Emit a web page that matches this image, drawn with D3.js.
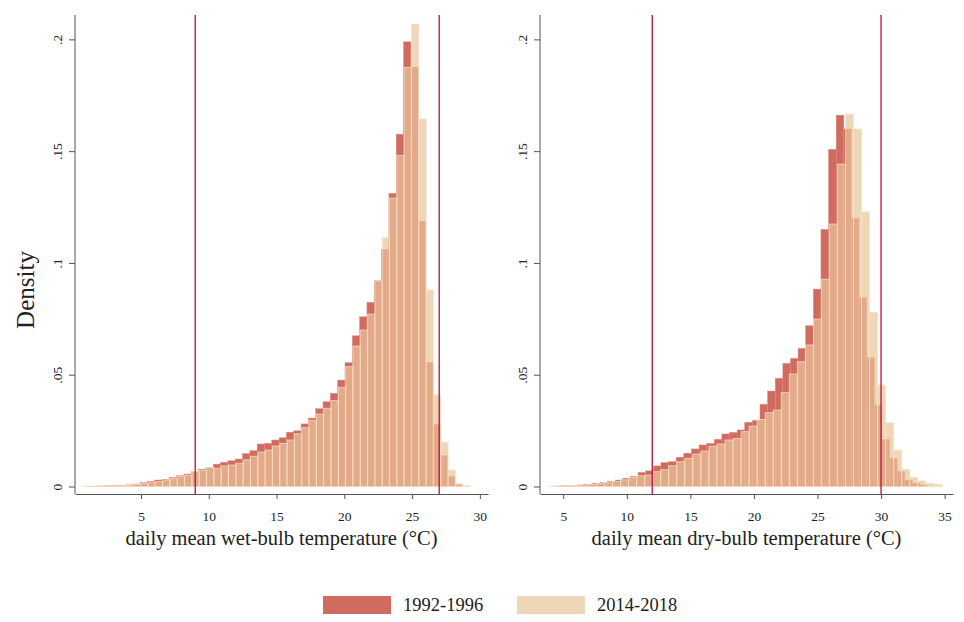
<!DOCTYPE html>
<html>
<head>
<meta charset="utf-8">
<script src="https://cdn.jsdelivr.net/npm/d3@7"></script>
<style>
  html, body { margin: 0; padding: 0; background: #fff; }
  svg { display: block; }
  text { font-family: "Liberation Serif", "DejaVu Serif", serif; fill: #222; }
</style>
</head>
<body>
<svg id="chart" width="964" height="622"></svg>
<script>
// ---------------- DATA ----------------
const seriesNames = ["1992-1996", "2014-2018"];

// wet-bulb panel (°C bins)
const wetRedStart = 1.15, wetRedWidth = 0.54;
const wetRed = [.0001, .0002, .0003, .0004, .0005, .0007, .0011, .0017, .0022, .0029,
  .0032, .0040, .0048, .0056, .0066, .0077, .0084, .0100, .0108, .0115,
  .0123, .0147, .0160, .0190, .0193, .0208, .0218, .0243, .0249, .0280,
  .0306, .0348, .0379, .0417, .0476, .0554, .0674, .0759, .0824, .0920,
  .1061, .1311, .1576, .1989, .1875, .1187, .0555, .0278, .0138, .0044, .0007];
const wetBeigeStart = 0.66, wetBeigeWidth = 0.54;
const wetBeige = [.0002, .0002, .0003, .0003, .0003, .0004, .0005, .0009, .0014, .0017, .0022,
  .0029, .0035, .0044, .0051, .0066, .0072, .0086, .0082, .0092, .0096,
  .0104, .0119, .0135, .0154, .0163, .0181, .0193, .0208, .0236, .0263,
  .0296, .0324, .0350, .0384, .0444, .0536, .0628, .0700, .0771, .0920,
  .1113, .1290, .1481, .1875, .2068, .1644, .0879, .0409, .0198, .0074, .0014, .0004];

// dry-bulb panel (°C bins)
const dryRedStart = 4.29, dryRedWidth = 0.5995;
const dryRed = [.0002, .0004, .0005, .0007, .0010, .0014, .0017, .0022, .0029, .0037, .0045, .0063, .0070,
  .0092, .0107, .0111, .0131, .0149, .0168, .0186, .0193, .0211, .0235,
  .0242, .0253, .0287, .0295, .0368, .0427, .0484, .0551, .0573, .0618,
  .0719, .0883, .1150, .1508, .1661, .1599, .1199, .0846, .0576, .0364, .0211, .0126, .0066, .0029, .0015, .0007];
const dryBeigeStart = 3.82, dryBeigeWidth = 0.632;
const dryBeige = [.0002, .0003, .0004, .0005, .0007, .0010, .0013, .0017, .0023, .0030, .0041, .0048, .0051,
  .0066, .0075, .0093, .0111, .0126, .0145, .0158, .0180, .0190, .0208,
  .0215, .0245, .0270, .0300, .0330, .0342, .0420, .0503, .0558, .0633,
  .0749, .0927, .1174, .1442, .1666, .1599, .1229, .0779, .0453, .0285, .0163, .0077, .0041, .0025, .0015, .0010];

const yTicks = [0, 0.05, 0.1, 0.15, 0.2];
const yTickLabels = ["0", ".05", ".1", ".15", ".2"];
const wetXTicks = [5, 10, 15, 20, 25, 30];
const dryXTicks = [5, 10, 15, 20, 25, 30, 35];
const wetXDomain = [0.13, 30.6];
const dryXDomain = [3.17, 35.66];
const yDomain = [-0.00335, 0.2109];
const wetRefLines = [9, 27];
const dryRefLines = [12, 30];
const wetTitle = "daily mean wet-bulb temperature (°C)";
const dryTitle = "daily mean dry-bulb temperature (°C)";
const yTitle = "Density";

// ---------------- STYLE ----------------
const redFill = "rgb(208,107,95)";
const beigeFill = "rgb(234,196,154)";
const beigeOpacity = 0.7;
const refColor = "#b3123c";
const axisColor = "#555";

const svg = d3.select("#chart");
svg.append("rect").attr("width", 964).attr("height", 622).attr("fill", "#fff");

const plotTop = 15, plotBottom = 494;
const y = d3.scaleLinear().domain(yDomain).range([plotBottom, plotTop]);

function toBins(values, start, width) {
  return values.map((v, i) => ({x0: start + i * width, x1: start + (i + 1) * width, v}));
}

function panel(opts) {
  const x = d3.scaleLinear().domain(opts.xDomain).range(opts.xRange);
  const g = svg.append("g");

  // red bars (1992-1996)
  g.append("g").selectAll("rect")
    .data(toBins(opts.red, opts.redStart, opts.redWidth))
    .join("rect")
    .attr("x", d => x(d.x0))
    .attr("width", d => x(d.x1) - x(d.x0))
    .attr("y", d => y(d.v))
    .attr("height", d => y(0) - y(d.v))
    .attr("fill", redFill)
    .attr("stroke", "rgb(222,140,125)")
    .attr("stroke-width", 0.5);

  // beige bars (2014-2018), semi-transparent on top
  g.append("g").selectAll("rect")
    .data(toBins(opts.beige, opts.beigeStart, opts.beigeWidth))
    .join("rect")
    .attr("x", d => x(d.x0))
    .attr("width", d => x(d.x1) - x(d.x0))
    .attr("y", d => y(d.v))
    .attr("height", d => y(0) - y(d.v))
    .attr("fill", beigeFill)
    .attr("fill-opacity", beigeOpacity)
    .attr("stroke", "rgb(246,226,202)")
    .attr("stroke-opacity", 0.8)
    .attr("stroke-width", 0.9);

  // reference lines
  g.append("g").selectAll("line")
    .data(opts.refs)
    .join("line")
    .attr("x1", d => x(d)).attr("x2", d => x(d))
    .attr("y1", plotTop).attr("y2", plotBottom)
    .attr("stroke", refColor)
    .attr("stroke-width", 1.3);

  // y axis
  const yAxis = d3.axisLeft(y).tickValues(yTicks)
    .tickFormat((d, i) => yTickLabels[i]).tickSize(6).tickSizeOuter(0);
  const ya = g.append("g").attr("transform", `translate(${opts.xRange[0]},0)`).call(yAxis);
  ya.select(".domain").attr("stroke", axisColor).attr("d", `M0,${plotTop}V${plotBottom}`);
  ya.selectAll(".tick line").attr("stroke", axisColor);
  ya.selectAll(".tick text")
    .attr("font-family", "Liberation Serif")
    .attr("font-size", 13.5)
    .attr("fill", "#222")
    .attr("x", 0).attr("dy", 0)
    .attr("text-anchor", "middle")
    .attr("dominant-baseline", "central")
    .attr("transform", "translate(-18,0) rotate(-90)");

  // x axis
  const xAxis = d3.axisBottom(x).tickValues(opts.xTicks).tickSize(5).tickSizeOuter(0);
  const xa = g.append("g").attr("transform", `translate(0,${plotBottom})`).call(xAxis);
  xa.select(".domain").attr("stroke", axisColor);
  xa.selectAll(".tick line").attr("stroke", axisColor);
  xa.selectAll(".tick text")
    .attr("font-family", "Liberation Serif")
    .attr("font-size", 13.5)
    .attr("fill", "#222")
    .attr("y", 17);

  // x title
  g.append("text")
    .attr("x", (opts.xRange[0] + opts.xRange[1]) / 2)
    .attr("y", 545)
    .attr("text-anchor", "middle")
    .attr("font-size", 20.5)
    .text(opts.title);
}

panel({xDomain: wetXDomain, xRange: [75, 488], xTicks: wetXTicks,
  red: wetRed, redStart: wetRedStart, redWidth: wetRedWidth,
  beige: wetBeige, beigeStart: wetBeigeStart, beigeWidth: wetBeigeWidth,
  refs: wetRefLines, title: wetTitle});
panel({xDomain: dryXDomain, xRange: [540, 953], xTicks: dryXTicks,
  red: dryRed, redStart: dryRedStart, redWidth: dryRedWidth,
  beige: dryBeige, beigeStart: dryBeigeStart, beigeWidth: dryBeigeWidth,
  refs: dryRefLines, title: dryTitle});

// y title
svg.append("text")
  .attr("transform", "translate(25,290) rotate(-90)")
  .attr("text-anchor", "middle")
  .attr("dominant-baseline", "central")
  .attr("font-size", 25)
  .text(yTitle);

// legend
const legend = svg.append("g");
const legendItems = [
  {name: seriesNames[0], fill: redFill, op: 1, x: 323},
  {name: seriesNames[1], fill: beigeFill, op: beigeOpacity, x: 517}
];
legendItems.forEach(it => {
  legend.append("rect").attr("x", it.x).attr("y", 596).attr("width", 68).attr("height", 18)
    .attr("fill", it.fill).attr("fill-opacity", it.op);
  legend.append("text").attr("x", it.x + 80).attr("y", 611)
    .attr("font-size", 18.5).text(it.name);
});
</script>
</body>
</html>
